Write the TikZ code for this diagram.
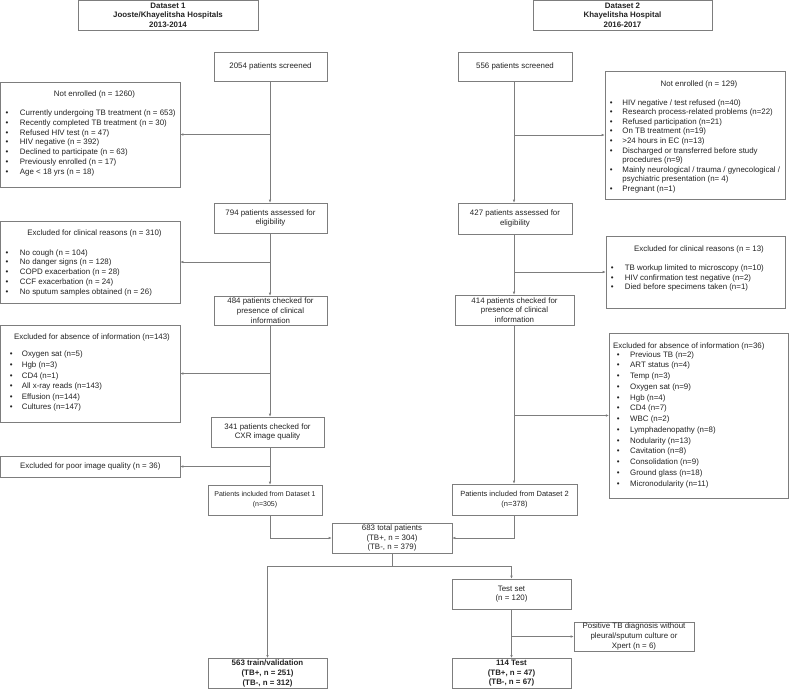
\documentclass[tikz,border=0pt]{standalone}
\usepackage{fontspec}
\setmainfont{Liberation Sans}
\usetikzlibrary{arrows.meta}
\definecolor{lc}{RGB}{125,125,125}
\definecolor{tc}{RGB}{35,35,35}
\newcommand\blist[2]{\begin{tabular}[t]{@{}l@{\hspace{#1}}l@{}}#2\end{tabular}}
\begin{document}
\begin{tikzpicture}[x=1pt,y=-1pt,
  font=\fontsize{7.9}{9.7}\selectfont,
  box/.style={draw=lc, line width=0.6pt, inner sep=0pt, align=center, text=tc},
  lbl/.style={inner sep=0pt, anchor=base, text=tc},
  lst/.style={inner sep=0pt, anchor=base west, text=tc},
  conn/.style={draw=lc, line width=0.6pt},
  arr/.style={conn, -{Latex[length=3pt,width=2.6pt]}}]
\useasboundingbox (0,0) rectangle (789,689);

% trunks
\coordinate (tl) at (270,0);
\coordinate (tr) at (514,0);

% headers
\node[box, minimum width=180pt, minimum height=29.5pt] (ds1) at (168,15.2) {\textbf{Dataset 1}\\\textbf{Jooste/Khayelitsha Hospitals}\\\textbf{2013-2014}};
\node[box, minimum width=179pt, minimum height=29.5pt] (ds2) at (622.5,15.2) {\textbf{Dataset 2}\\\textbf{Khayelitsha Hospital}\\\textbf{2016-2017}};

% left column main boxes
\node[box, minimum width=113pt, minimum height=29pt] (s1) at (270.5,66.5) {2054 patients screened};
\node[box, minimum width=113pt, minimum height=30pt] (e1) at (270.5,218) {794 patients assessed for\\eligibility};
\node[box, minimum width=113pt, minimum height=29pt] (c1) at (270.5,310.5) {484 patients checked for\\presence of clinical\\information};
\node[box, minimum width=113pt, minimum height=30pt] (q1) at (267.5,432) {341 patients checked for\\CXR image quality};
\node[box, minimum width=114pt, minimum height=30pt, font=\fontsize{7}{9.7}\selectfont] (inc1) at (265,500) {Patients included from Dataset 1\\(n=305)};

% left exclusion boxes
\node[box, minimum width=179.4pt, minimum height=105pt] (ne1) at (90.3,134.5) {};
\node[lbl] (ne1t) at (94.5,96.5) {Not enrolled (n = 1260)};
\node[lst] (ne1l) at (5.4,115.8) {\blist{11.6pt}{%
\textbullet & Currently undergoing TB treatment (n = 653)\\
\textbullet & Recently completed TB treatment (n = 30)\\
\textbullet & Refused HIV test (n = 47)\\
\textbullet & HIV negative (n = 392)\\
\textbullet & Declined to participate (n = 63)\\
\textbullet & Previously enrolled (n = 17)\\
\textbullet & Age < 18 yrs (n = 18)}};

\node[box, minimum width=179.4pt, minimum height=82pt] (cr1) at (90.3,262) {};
\node[lbl] (cr1t) at (94.5,235.8) {Excluded for clinical reasons (n = 310)};
\node[lst] (cr1l) at (5.4,255.2) {\blist{11.6pt}{%
\textbullet & No cough (n = 104)\\
\textbullet & No danger signs (n = 128)\\
\textbullet & COPD exacerbation (n = 28)\\
\textbullet & CCF exacerbation (n = 24)\\
\textbullet & No sputum samples obtained (n = 26)}};

\node[box, minimum width=179.4pt, minimum height=97pt] (ab1) at (90.3,373.5) {};
\node[lbl] (ab1t) at (92,339.8) {Excluded for absence of information (n=143)};
\node[lst] (ab1l) at (9.6,356.8) {\renewcommand\arraystretch{1.093}\blist{9.3pt}{%
\textbullet & Oxygen sat (n=5)\\
\textbullet & Hgb (n=3)\\
\textbullet & CD4 (n=1)\\
\textbullet & All x-ray reads (n=143)\\
\textbullet & Effusion (n=144)\\
\textbullet & Cultures (n=147)}};

\node[box, minimum width=179.4pt, minimum height=21pt] (pq1) at (90.3,466.5) {Excluded for poor image quality (n = 36)};

% right column main boxes
\node[box, minimum width=114pt, minimum height=29pt] (s2) at (515,66.5) {556 patients screened};
\node[box, minimum width=114pt, minimum height=31pt] (e2) at (515,218.5) {427 patients assessed for\\eligibility};
\node[box, minimum width=119pt, minimum height=30pt] (c2) at (514.5,310) {414 patients checked for\\presence of clinical\\information};
\node[box, minimum width=125pt, minimum height=31pt, font=\fontsize{7.5}{9.7}\selectfont] (inc2) at (514.5,499.5) {Patients included from Dataset 2\\(n=378)};

% right exclusion boxes
\node[box, minimum width=180pt, minimum height=128pt] (ne2) at (695,135) {};
\node[lbl] (ne2t) at (699,86.5) {Not enrolled (n = 129)};
\node[lst] (ne2l) at (609.6,105) {\renewcommand\arraystretch{0.99}\blist{9.9pt}{%
\textbullet & HIV negative / test refused (n=40)\\
\textbullet & Research process-related problems (n=22)\\
\textbullet & Refused participation (n=21)\\
\textbullet & On TB treatment (n=19)\\
\textbullet & >24 hours in EC (n=13)\\
\textbullet & Discharged or transferred before study\\
 & procedures (n=9)\\
\textbullet & Mainly neurological / trauma / gynecological /\\
 & psychiatric presentation (n= 4)\\
\textbullet & Pregnant (n=1)}};

\node[box, minimum width=179pt, minimum height=72pt] (cr2) at (695.5,272) {};
\node[lbl] (cr2t) at (699,251.5) {Excluded for clinical reasons (n = 13)};
\node[lst] (cr2l) at (610.6,270.5) {\renewcommand\arraystretch{0.99}\blist{11.3pt}{%
\textbullet & TB workup limited to microscopy (n=10)\\
\textbullet & HIV confirmation test negative (n=2)\\
\textbullet & Died before specimens taken (n=1)}};

\node[box, minimum width=178.6pt, minimum height=165pt] (ab2) at (698.5,415.5) {};
\node[lst] (ab2t) at (613,348.3) {Excluded for absence of information (n=36)};
\node[lst] (ab2l) at (616.6,357.2) {\renewcommand\arraystretch{1.108}\blist{10.6pt}{%
\textbullet & Previous TB (n=2)\\
\textbullet & ART status (n=4)\\
\textbullet & Temp (n=3)\\
\textbullet & Oxygen sat (n=9)\\
\textbullet & Hgb (n=4)\\
\textbullet & CD4 (n=7)\\
\textbullet & WBC (n=2)\\
\textbullet & Lymphadenopathy (n=8)\\
\textbullet & Nodularity (n=13)\\
\textbullet & Cavitation (n=8)\\
\textbullet & Consolidation (n=9)\\
\textbullet & Ground glass (n=18)\\
\textbullet & Micronodularity (n=11)}};

% bottom
\node[box, minimum width=120pt, minimum height=30pt] (tot) at (392,538) {683 total patients\\(TB+, n = 304)\\(TB-, n = 379)};
\node[box, minimum width=119pt, minimum height=30pt] (ts) at (511.5,594) {Test set\\(n = 120)};
\node[box, minimum width=120pt, minimum height=29pt] (pos) at (634,636.5) {Positive TB diagnosis without\\pleural/sputum culture or\\Xpert (n = 6)};
\node[box, minimum width=119pt, minimum height=30pt, font=\fontsize{7.9}{9.7}\selectfont\bfseries] (tv) at (267.5,673.3) {563 train/validation\\(TB+, n = 251)\\(TB-, n = 312)};
\node[box, minimum width=119pt, minimum height=30pt, font=\fontsize{7.9}{9.7}\selectfont\bfseries] (tt) at (511.5,673.3) {114 Test\\(TB+, n = 47)\\(TB-, n = 67)};
\coordinate (sp) at (392,566);

% left connectors
\draw[arr] (tl |- s1.south) -- (tl |- e1.north);
\draw[arr] (tl |- ne1.east) -- (ne1.east);
\draw[arr] (tl |- e1.south) -- (tl |- c1.north);
\draw[arr] (tl |- cr1.east) -- (cr1.east);
\draw[arr] (tl |- c1.south) -- (tl |- q1.north);
\draw[arr] (tl |- ab1.east) -- (ab1.east);
\draw[arr] (tl |- q1.south) -- (tl |- inc1.north);
\draw[arr] (tl |- pq1.east) -- (pq1.east);
\draw[arr] (tl |- inc1.south) |- (tot.west);

% right connectors
\draw[arr] (tr |- s2.south) -- (tr |- e2.north);
\draw[arr] (tr |- ne2.west) -- (ne2.west);
\draw[arr] (tr |- e2.south) -- (tr |- c2.north);
\draw[arr] (tr |- cr2.west) -- (cr2.west);
\draw[arr] (tr |- c2.south) -- (tr |- inc2.north);
\draw[arr] (tr |- ab2.west) -- (ab2.west);
\draw[arr] (tr |- inc2.south) |- (tot.east);

% split
\draw[conn] (tot.south) -- (sp);
\draw[arr] (sp) -| (tv.north);
\draw[arr] (sp) -| (ts.north);
\draw[arr] (ts.south) -- (tt.north);
\draw[arr] (ts.south |- pos.west) -- (pos.west);
\end{tikzpicture}
\end{document}
